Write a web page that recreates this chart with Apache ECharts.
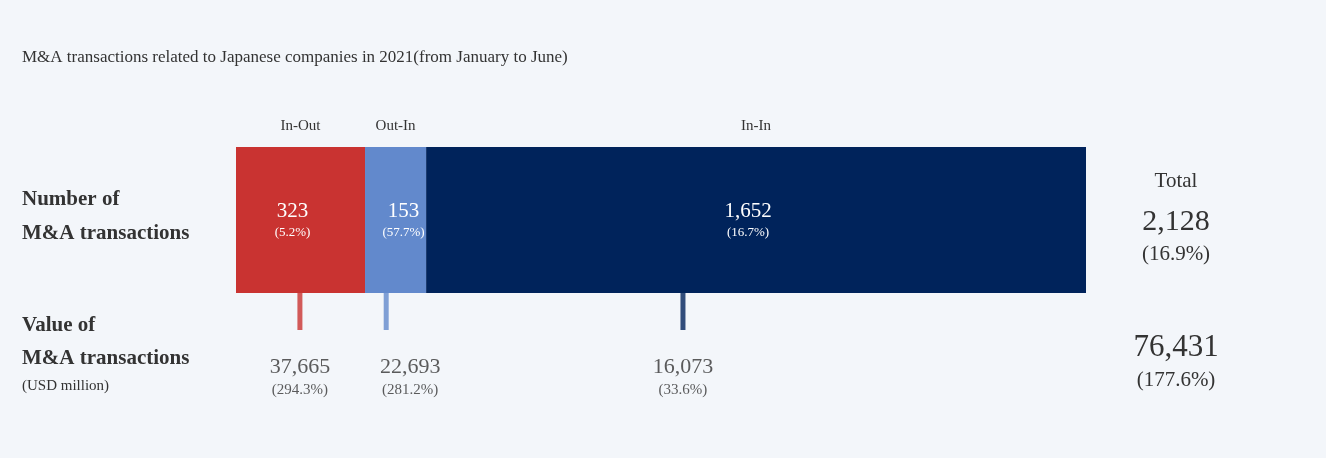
<!DOCTYPE html><html><head><meta charset="utf-8">
<script src="https://cdn.jsdelivr.net/npm/echarts@6/dist/echarts.min.js"></script>
<style>body{margin:0;background:#f3f6fa}#c{width:1326px;height:458px}</style></head><body><div id="c"></div>
<script>
const categories=['In-Out','Out-In','In-In'];
const counts=[323,153,1652];
const countShares=['(5.2%)','(57.7%)','(16.7%)'];
const values=['37,665','22,693','16,073'];
const valueShares=['(294.3%)','(281.2%)','(33.6%)'];
const tickPos=[160,376,1119];
const total=['2,128','(16.9%)','76,431','(177.6%)'];
const colors=['#c93331','#6289cc','#00235b'];
const F='"Liberation Serif","DejaVu Serif",serif';
const sum=counts.reduce((a,b)=>a+b,0);
const chart=echarts.init(document.getElementById('c'));
chart.setOption({
 backgroundColor:'#f3f6fa',animation:false,
 grid:[{left:236,right:240,top:147,height:146},{left:236,right:240,top:293,height:37}],
 xAxis:[{type:'value',min:0,max:sum,show:false,gridIndex:0},{type:'value',min:0,max:sum,show:false,gridIndex:1}],
 yAxis:[{type:'category',data:['n'],show:false,gridIndex:0},{type:'value',min:0,max:1,show:false,gridIndex:1}],
 series:[...categories.map((c,i)=>({type:'bar',stack:'a',barWidth:146,data:[counts[i]],itemStyle:{color:colors[i]},
   label:{show:true,position:'inside',offset:[i==1?8:-8,0],formatter:()=>'{a|'+counts[i].toLocaleString('en-US')+'}\n{b|'+countShares[i]+'}',
   rich:{a:{color:'#fff',fontSize:21,fontFamily:F,lineHeight:26},b:{color:'#fff',fontSize:13,fontFamily:F,lineHeight:18}}}})),
  {type:'scatter',xAxisIndex:1,yAxisIndex:1,symbol:'rect',symbolSize:[5,37],
   data:tickPos.map((p,i)=>({value:[p,0.5],itemStyle:{color:colors[i]},label:{offset:[i==1?24:0,0]}})),
   label:{show:true,position:'bottom',distance:24,formatter:p=>'{a|'+values[p.dataIndex]+'}\n{b|'+valueShares[p.dataIndex]+'}',
   rich:{a:{color:'#333',fontSize:22,fontFamily:F,lineHeight:26},b:{color:'#333',fontSize:15,fontFamily:F,lineHeight:20}}}}]
});
let acc=0;const g=[];
categories.forEach((c,i)=>{const x=chart.convertToPixel({xAxisIndex:0},acc+counts[i]/2);acc+=counts[i];
 g.push({type:'text',x:x,y:126,style:{text:c,fontSize:15,fontFamily:F,fill:'#333',textAlign:'center',textVerticalAlign:'middle'}});});
const T=(t,x,y,s,o={})=>g.push({type:'text',x,y,style:Object.assign({text:t,fontSize:s,fontFamily:F,fill:'#333',textVerticalAlign:'middle'},o)});
T('M&A transactions related to Japanese companies in 2021(from January to June)',22,58,17);
T('Number of',22,200,21,{fontWeight:'bold'});T('M&A transactions',22,234,21,{fontWeight:'bold'});
T('Value of',22,326,21,{fontWeight:'bold'});T('M&A transactions',22,359,21,{fontWeight:'bold'});
T('(USD million)',22,386,15);
const cx=1176;
T('Total',cx,181,21,{textAlign:'center'});T(total[0],cx,222,30,{textAlign:'center'});T(total[1],cx,254,21,{textAlign:'center'});
T(total[2],cx,348,31,{textAlign:'center'});T(total[3],cx,380,21,{textAlign:'center'});
chart.setOption({graphic:g});
</script></body></html>
